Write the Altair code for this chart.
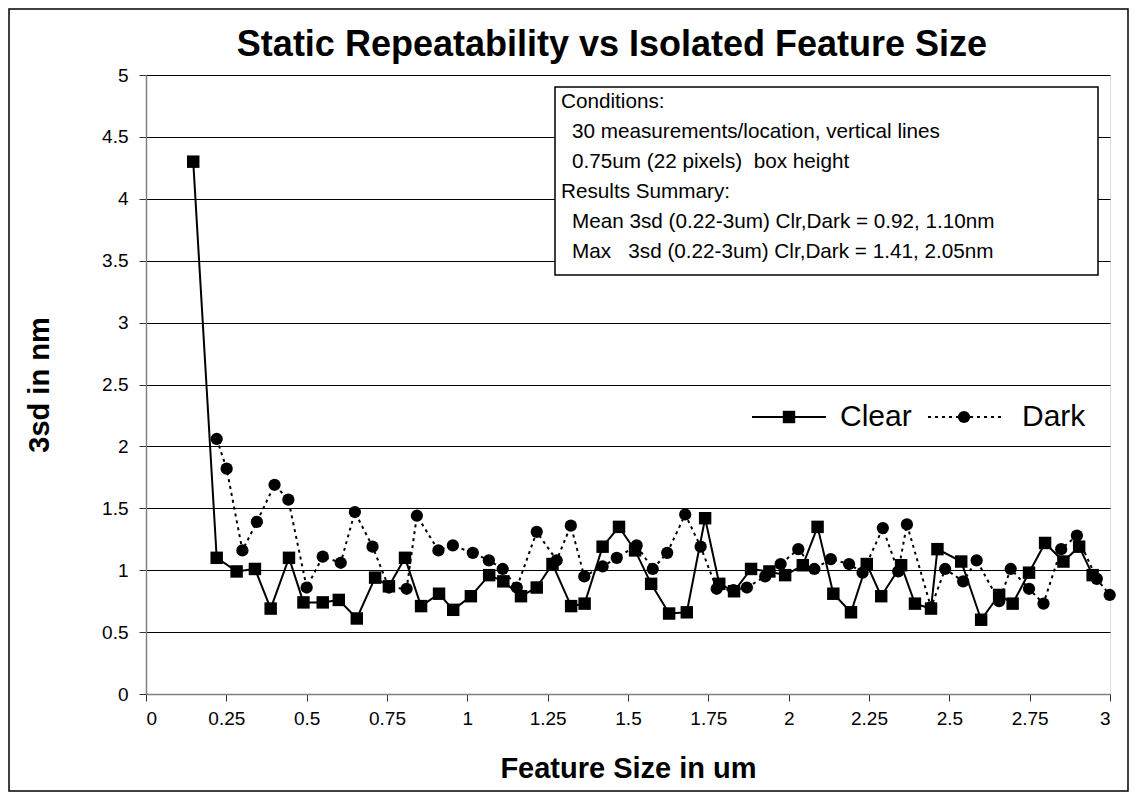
import altair as alt
import pandas as pd

FONT = "Liberation Sans"

clear_x = [0.147, 0.22, 0.282, 0.339, 0.388, 0.445, 0.49, 0.55, 0.60, 0.656, 0.713, 0.756,
           0.806, 0.856, 0.912, 0.956, 1.011, 1.068, 1.112, 1.167, 1.216, 1.265, 1.323, 1.365,
           1.421, 1.472, 1.522, 1.572, 1.628, 1.683, 1.74, 1.784, 1.83, 1.883, 1.94, 1.989,
           2.044, 2.09, 2.139, 2.194, 2.243, 2.288, 2.35, 2.393, 2.443, 2.463, 2.537, 2.599,
           2.655, 2.697, 2.748, 2.798, 2.855, 2.904, 2.946]
clear_y = [4.30, 1.10, 0.99, 1.01, 0.69, 1.10, 0.74, 0.74, 0.76, 0.61, 0.94, 0.87,
           1.10, 0.71, 0.81, 0.68, 0.79, 0.96, 0.91, 0.79, 0.86, 1.05, 0.71, 0.73,
           1.19, 1.35, 1.16, 0.89, 0.65, 0.66, 1.42, 0.89, 0.83, 1.01, 0.99, 0.96,
           1.04, 1.35, 0.81, 0.66, 1.05, 0.79, 1.04, 0.73, 0.69, 1.17, 1.07, 0.60,
           0.80, 0.73, 0.98, 1.22, 1.07, 1.19, 0.96]

dark_x = [0.22, 0.251, 0.30, 0.345, 0.40, 0.443, 0.50, 0.55, 0.606, 0.65, 0.705, 0.756,
          0.811, 0.843, 0.91, 0.955, 1.017, 1.067, 1.11, 1.154, 1.216, 1.278, 1.322, 1.364,
          1.421, 1.465, 1.527, 1.577, 1.622, 1.678, 1.726, 1.776, 1.828, 1.87, 1.927, 1.975,
          2.03, 2.08, 2.131, 2.188, 2.23, 2.293, 2.341, 2.368, 2.443, 2.487, 2.543, 2.585,
          2.655, 2.691, 2.748, 2.793, 2.848, 2.897, 2.959, 2.999]
dark_y = [2.06, 1.82, 1.16, 1.39, 1.69, 1.57, 0.86, 1.11, 1.06, 1.47, 1.19, 0.86,
          0.85, 1.44, 1.16, 1.20, 1.14, 1.08, 1.01, 0.86, 1.31, 1.08, 1.36, 0.95,
          1.03, 1.10, 1.20, 1.01, 1.14, 1.45, 1.19, 0.85, 0.84, 0.86, 0.95, 1.05,
          1.17, 1.01, 1.09, 1.05, 0.98, 1.34, 0.99, 1.37, 0.70, 1.01, 0.91, 1.08,
          0.75, 1.01, 0.85, 0.73, 1.17, 1.28, 0.93, 0.80]

x_ticks = [0, 0.25, 0.5, 0.75, 1, 1.25, 1.5, 1.75, 2, 2.25, 2.5, 2.75, 3]
y_ticks = [0, 0.5, 1, 1.5, 2, 2.5, 3, 3.5, 4, 4.5, 5]

series_names = ["Clear", "Dark"]
title_text = "Static Repeatability vs Isolated Feature Size"
x_title = "Feature Size in um"
y_title = "3sd in nm"
note_lines = [
    "Conditions:",
    "30 measurements/location, vertical lines",
    "0.75um (22 pixels)\u00a0\u00a0box height",
    "Results Summary:",
    "Mean 3sd (0.22-3um) Clr,Dark = 0.92, 1.10nm",
    "Max\u00a0\u00a0\u00a03sd (0.22-3um) Clr,Dark = 1.41, 2.05nm",
]
note_indent = [False, True, True, False, True, True]

W, H = 964, 619

df_clear = pd.DataFrame({"x": clear_x, "y": clear_y, "series": series_names[0]})
df_dark = pd.DataFrame({"x": dark_x, "y": dark_y, "series": series_names[1]})

x_enc = alt.X("x:Q", scale=alt.Scale(domain=[0, 3], nice=False, zero=False),
              axis=alt.Axis(values=x_ticks, labelExpr="datum.value + ''", title=x_title, grid=False,
                            labelFont=FONT, labelFontSize=19, labelColor="black", labelPadding=8,
                            tickSize=7, tickColor="#333", domainColor="#808080", domainWidth=1.5,
                            titleFont=FONT, titleFontSize=29, titleFontWeight="bold",
                            titleColor="black", titleY=74, titleBaseline="middle"))
y_enc = alt.Y("y:Q", scale=alt.Scale(domain=[0, 5], nice=False),
              axis=alt.Axis(values=y_ticks, labelExpr="datum.value + ''", title=y_title, grid=True,
                            gridColor="black", gridWidth=1, gridOpacity=1,
                            labelFont=FONT, labelFontSize=19, labelColor="black", labelPadding=11,
                            tickSize=7, tickColor="#333", domainColor="#808080", domainWidth=1.5,
                            titleFont=FONT, titleFontSize=29, titleFontWeight="bold",
                            titleColor="black", titleX=-107, titleAngle=270,
                            titleBaseline="middle", titleAlign="center"))

clear_line = alt.Chart(df_clear).mark_line(color="black", strokeWidth=2).encode(x=x_enc, y=y_enc)
clear_pts = alt.Chart(df_clear).mark_point(shape="square", filled=True, size=155, color="black",
                                           opacity=1).encode(x="x:Q", y="y:Q")
dark_line = alt.Chart(df_dark).mark_line(color="black", strokeWidth=2, strokeDash=[3, 4]).encode(
    x="x:Q", y="y:Q")
dark_pts = alt.Chart(df_dark).mark_point(shape="circle", filled=True, size=150, color="black",
                                         opacity=1).encode(x="x:Q", y="y:Q")

one = alt.Data(values=[{"k": 1}])

layers = [clear_line, dark_line, clear_pts, dark_pts]

# chart title as text
layers.append(alt.Chart(one).mark_text(text=title_text, align="center", baseline="alphabetic",
                                       font=FONT, fontSize=36, fontWeight="bold", color="black").encode(
    x=alt.value(466), y=alt.value(-19)))

# annotation box
layers.append(alt.Chart(one).mark_rect(fill="white", stroke="black", strokeWidth=1.5).encode(
    x=alt.value(409), x2=alt.value(952), y=alt.value(12), y2=alt.value(200)))
for i, (line, ind) in enumerate(zip(note_lines, note_indent)):
    layers.append(alt.Chart(one).mark_text(text=line, align="left", baseline="middle",
                                           font=FONT, fontSize=20.7, color="black").encode(
        x=alt.value(426 if ind else 415), y=alt.value(27 + 30 * i)))

# legend
leg_y = 342
layers += [
    alt.Chart(one).mark_rule(color="black", strokeWidth=2).encode(
        x=alt.value(606), x2=alt.value(680), y=alt.value(leg_y)),
    alt.Chart(one).mark_point(shape="square", filled=True, size=155, color="black",
                              opacity=1).encode(x=alt.value(643), y=alt.value(leg_y)),
    alt.Chart(one).mark_text(text=series_names[0], align="left", baseline="middle",
                             font=FONT, fontSize=30, color="black").encode(
        x=alt.value(694), y=alt.value(leg_y)),
    alt.Chart(one).mark_rule(color="black", strokeWidth=2, strokeDash=[3, 4]).encode(
        x=alt.value(782), x2=alt.value(856), y=alt.value(leg_y)),
    alt.Chart(one).mark_point(shape="circle", filled=True, size=150, color="black",
                              opacity=1).encode(x=alt.value(818), y=alt.value(leg_y)),
    alt.Chart(one).mark_text(text=series_names[1], align="left", baseline="middle",
                             font=FONT, fontSize=30, color="black").encode(
        x=alt.value(876), y=alt.value(leg_y)),
]

# outer frame
layers.append(alt.Chart(one).mark_rect(fill=None, fillOpacity=0, stroke="black", strokeWidth=1.5).encode(
    x=alt.value(-137), x2=alt.value(982), y=alt.value(-66), y2=alt.value(716)))

chart = alt.layer(*layers).properties(
    width=W, height=H,
    autosize=alt.AutoSizeParams(type="none"),
    padding={"left": 138, "top": 67, "right": 20, "bottom": 99},
).configure_view(stroke="#808080", strokeWidth=1.5).configure(background="white")

chart.save("out.html", embed_options={"renderer": "svg", "actions": False})
